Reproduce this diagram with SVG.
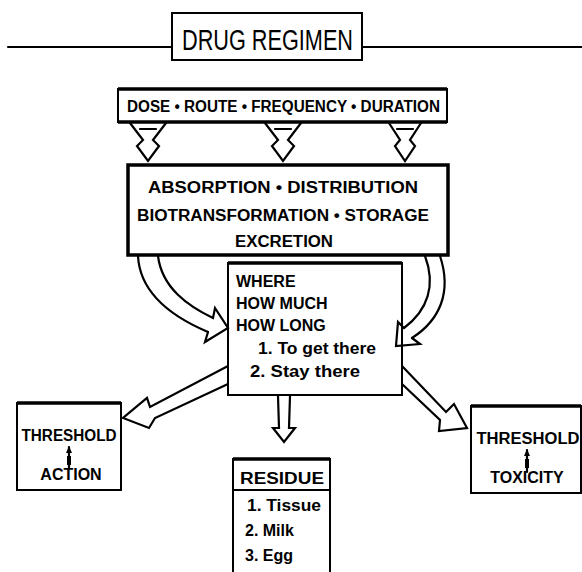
<svg xmlns="http://www.w3.org/2000/svg" width="582" height="572" viewBox="0 0 582 572">
<style>
.bg{fill:#fff}
.box{fill:none;stroke:#000;stroke-width:2}
.thick{fill:none;stroke:#000;stroke-width:3.5}
.ln{fill:none;stroke:#000;stroke-width:2.2;stroke-linejoin:miter;stroke-linecap:round}
.t{font-family:"Liberation Sans",Arial,sans-serif;fill:#000;font-weight:bold}
.big{font-size:30px;font-weight:normal}
.m{font-size:16px}
.s{font-size:16px}
</style>
<rect class="bg" x="0" y="0" width="582" height="572"/>

<g id="title">
  <line class="ln" x1="8" y1="47" x2="172" y2="47"/>
  <line class="ln" x1="362" y1="47" x2="582" y2="47"/>
  <rect class="box" x="172" y="13" width="190" height="47"/>
  <text class="t big" x="182" y="50" textLength="171" lengthAdjust="spacingAndGlyphs">DRUG  REGIMEN</text>
</g>

<g id="dose">
  <rect class="box" x="118" y="89" width="329" height="33"/>
  <line class="thick" x1="118" y1="89" x2="447" y2="89"/>
  <line class="thick" x1="118" y1="122" x2="447" y2="122"/>
  <text class="t m" x="127" y="112" textLength="313" lengthAdjust="spacingAndGlyphs">DOSE • ROUTE • FREQUENCY • DURATION</text>
</g>

<g id="absorption">
  <rect class="thick" x="128" y="165" width="320" height="90"/>
  <text class="t m" x="283" y="193" text-anchor="middle" textLength="270" lengthAdjust="spacingAndGlyphs">ABSORPTION • DISTRIBUTION</text>
  <text class="t m" x="283" y="221" text-anchor="middle" textLength="292" lengthAdjust="spacingAndGlyphs">BIOTRANSFORMATION • STORAGE</text>
  <text class="t m" x="284" y="247" text-anchor="middle" textLength="98" lengthAdjust="spacingAndGlyphs">EXCRETION</text>
</g>

<g id="where">
  <rect class="box" x="228" y="263" width="174" height="132"/>
  <line class="thick" x1="228" y1="263" x2="402" y2="263"/>
  <text class="t s" x="236" y="287">WHERE</text>
  <text class="t s" x="236" y="309">HOW MUCH</text>
  <text class="t s" x="236" y="331">HOW LONG</text>
  <text class="t s" x="258" y="354" textLength="118" lengthAdjust="spacingAndGlyphs">1. To get there</text>
  <text class="t s" x="250" y="377" textLength="110" lengthAdjust="spacingAndGlyphs">2. Stay there</text>
</g>

<g id="threshold-action">
  <rect class="box" x="17" y="403" width="104" height="87"/>
  <line class="thick" x1="17" y1="403" x2="121" y2="403"/>
  <text class="t s" x="69" y="441" text-anchor="middle" textLength="95" lengthAdjust="spacingAndGlyphs">THRESHOLD</text>
  <line class="ln" x1="69" y1="447" x2="69" y2="469"/>
  <path d="M66 453 L69 446 L72 453 Z M67 456 L71 456 L71 465 L67 465 Z" fill="#000"/>
  <text class="t s" x="71" y="480" text-anchor="middle">ACTION</text>
</g>

<g id="residue">
  <rect class="box" x="233" y="459" width="97" height="114"/>
  <line class="thick" x1="233" y1="459" x2="330" y2="459"/>
  <line class="box" x1="233" y1="490" x2="330" y2="490"/>
  <text class="t s" x="282" y="484" text-anchor="middle" textLength="84" lengthAdjust="spacingAndGlyphs">RESIDUE</text>
  <text class="t s" x="247" y="511" textLength="74" lengthAdjust="spacingAndGlyphs">1. Tissue</text>
  <text class="t s" x="245" y="536">2. Milk</text>
  <text class="t s" x="245" y="561">3. Egg</text>
</g>

<g id="threshold-toxicity">
  <rect class="box" x="471" y="406" width="110" height="87"/>
  <line class="thick" x1="471" y1="406" x2="581" y2="406"/>
  <text class="t s" x="528" y="444" text-anchor="middle" textLength="103" lengthAdjust="spacingAndGlyphs">THRESHOLD</text>
  <line class="ln" x1="527" y1="450" x2="527" y2="472"/>
  <path d="M524 456 L527 449 L530 456 Z M525 459 L529 459 L529 468 L525 468 Z" fill="#000"/>
  <text class="t s" x="527" y="483" text-anchor="middle">TOXICITY</text>
</g>

<g id="connectors">
  <path class="ln" d="M130 123 L143 140 L137 146 L148 161 L159 146 L153 140 L166 123 M140 129 L156 129"/>
  <path class="ln" d="M265 123 L278 140 L272 146 L283 161 L294 146 L288 140 L301 123 M275 129 L291 129"/>
  <path class="ln" d="M389 123 L400 140 L395 146 L405 161 L415 146 L410 140 L421 123 M397 129 L413 129"/>

  <path class="ln" d="M138 256 C140 295 175 318 208 332"/>
  <path class="ln" d="M158 256 C162 288 188 306 213 318 L215 308 L228 328 L205 342 L208 332"/>

  <path class="ln" d="M440 256 C452 292 440 320 412 338"/>
  <path class="ln" d="M425 256 C436 285 428 310 404 328 L398 322 L396 346 L420 344 L412 338"/>

  <path class="ln" d="M228 366 L150 407 L147 398 L123 418 L149 428 L155 418 L228 384"/>
  <path class="ln" d="M278 396 L279 428 L273 428 L284 442 L295 428 L289 428 L290 396"/>
  <path class="ln" d="M402 366 L446 412 L454 404 L467 428 L439 431 L440 420 L402 384"/>
</g>
</svg>
